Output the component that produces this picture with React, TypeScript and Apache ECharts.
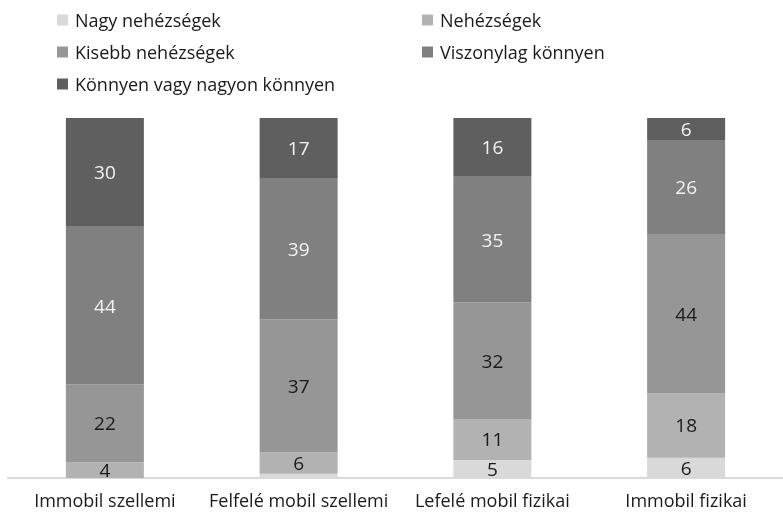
import React, { useEffect, useRef } from "react";
import * as echarts from "echarts";

const categories = ["Immobil szellemi", "Felfelé mobil szellemi", "Lefelé mobil fizikai", "Immobil fizikai"];
const seriesNames = ["Nagy nehézségek", "Nehézségek", "Kisebb nehézségek", "Viszonylag könnyen", "Könnyen vagy nagyon könnyen"];
const nagyNehezsegek = [0, 1.2, 5, 5.6];
const nehezsegek = [4.4, 5.9, 11.4, 18.0];
const kisebbNehezsegek = [21.6, 37, 32.4, 44.0];
const viszonylagKonnyen = [43.8, 39, 34.9, 26.3];
const konnyen = [30.2, 16.9, 16.3, 6.1];
const seriesValues = [nagyNehezsegek, nehezsegek, kisebbNehezsegek, viszonylagKonnyen, konnyen];
const colors = ["#d9d9d9", "#b2b2b2", "#969696", "#808080", "#5f5f5f"];
const labelColors = ["#1a1a1a", "#1a1a1a", "#1a1a1a", "#f2f2f2", "#f2f2f2"];

const FONT = "'Open Sans', sans-serif";

export default function App() {
  const ref = useRef<HTMLDivElement>(null);
  useEffect(() => {
    if (!ref.current) return;
    const chart = echarts.init(ref.current, null, { renderer: "svg" });
    const legendCommon = {
      orient: "vertical" as const,
      itemWidth: 11,
      itemHeight: 11,
      itemGap: 12,
      icon: "rect",
      textStyle: { fontFamily: FONT, fontSize: 18, color: "#1a1a1a", lineHeight: 20, padding: [0, 0, 0, 2] },
      selectedMode: false,
    };
    chart.setOption({
      animation: false,
      legend: [
        { ...legendCommon, left: 52, top: 5, data: [seriesNames[0], seriesNames[2], seriesNames[4]] },
        { ...legendCommon, left: 417, top: 5, data: [seriesNames[1], seriesNames[3]] },
      ],
      grid: { left: 8, top: 118, width: 780, height: 360, containLabel: false },
      xAxis: {
        type: "category",
        data: categories,
        axisLine: { lineStyle: { color: "#d9d9d9", width: 2 } },
        axisTick: { show: false },
        axisLabel: { fontFamily: FONT, fontSize: 18, color: "#1a1a1a", margin: 13, interval: 0 },
      },
      yAxis: { type: "value", min: 0, max: 100, show: false, splitLine: { show: false } },
      series: seriesNames.map((name, i) => ({
        name,
        type: "bar",
        stack: "total",
        barWidth: 78,
        data: seriesValues[i],
        itemStyle: { color: colors[i] },
        label: {
          show: true,
          position: "inside",
          fontFamily: FONT,
          fontSize: 19,
          color: labelColors[i],
          formatter: (p: any) => (p.value >= 3 ? String(Math.round(p.value)) : ""),
        },
      })),
    });
    return () => chart.dispose();
  }, []);
  return <div ref={ref} style={{ position: "fixed", left: 0, top: 0, width: 783, height: 516 }} />;
}
